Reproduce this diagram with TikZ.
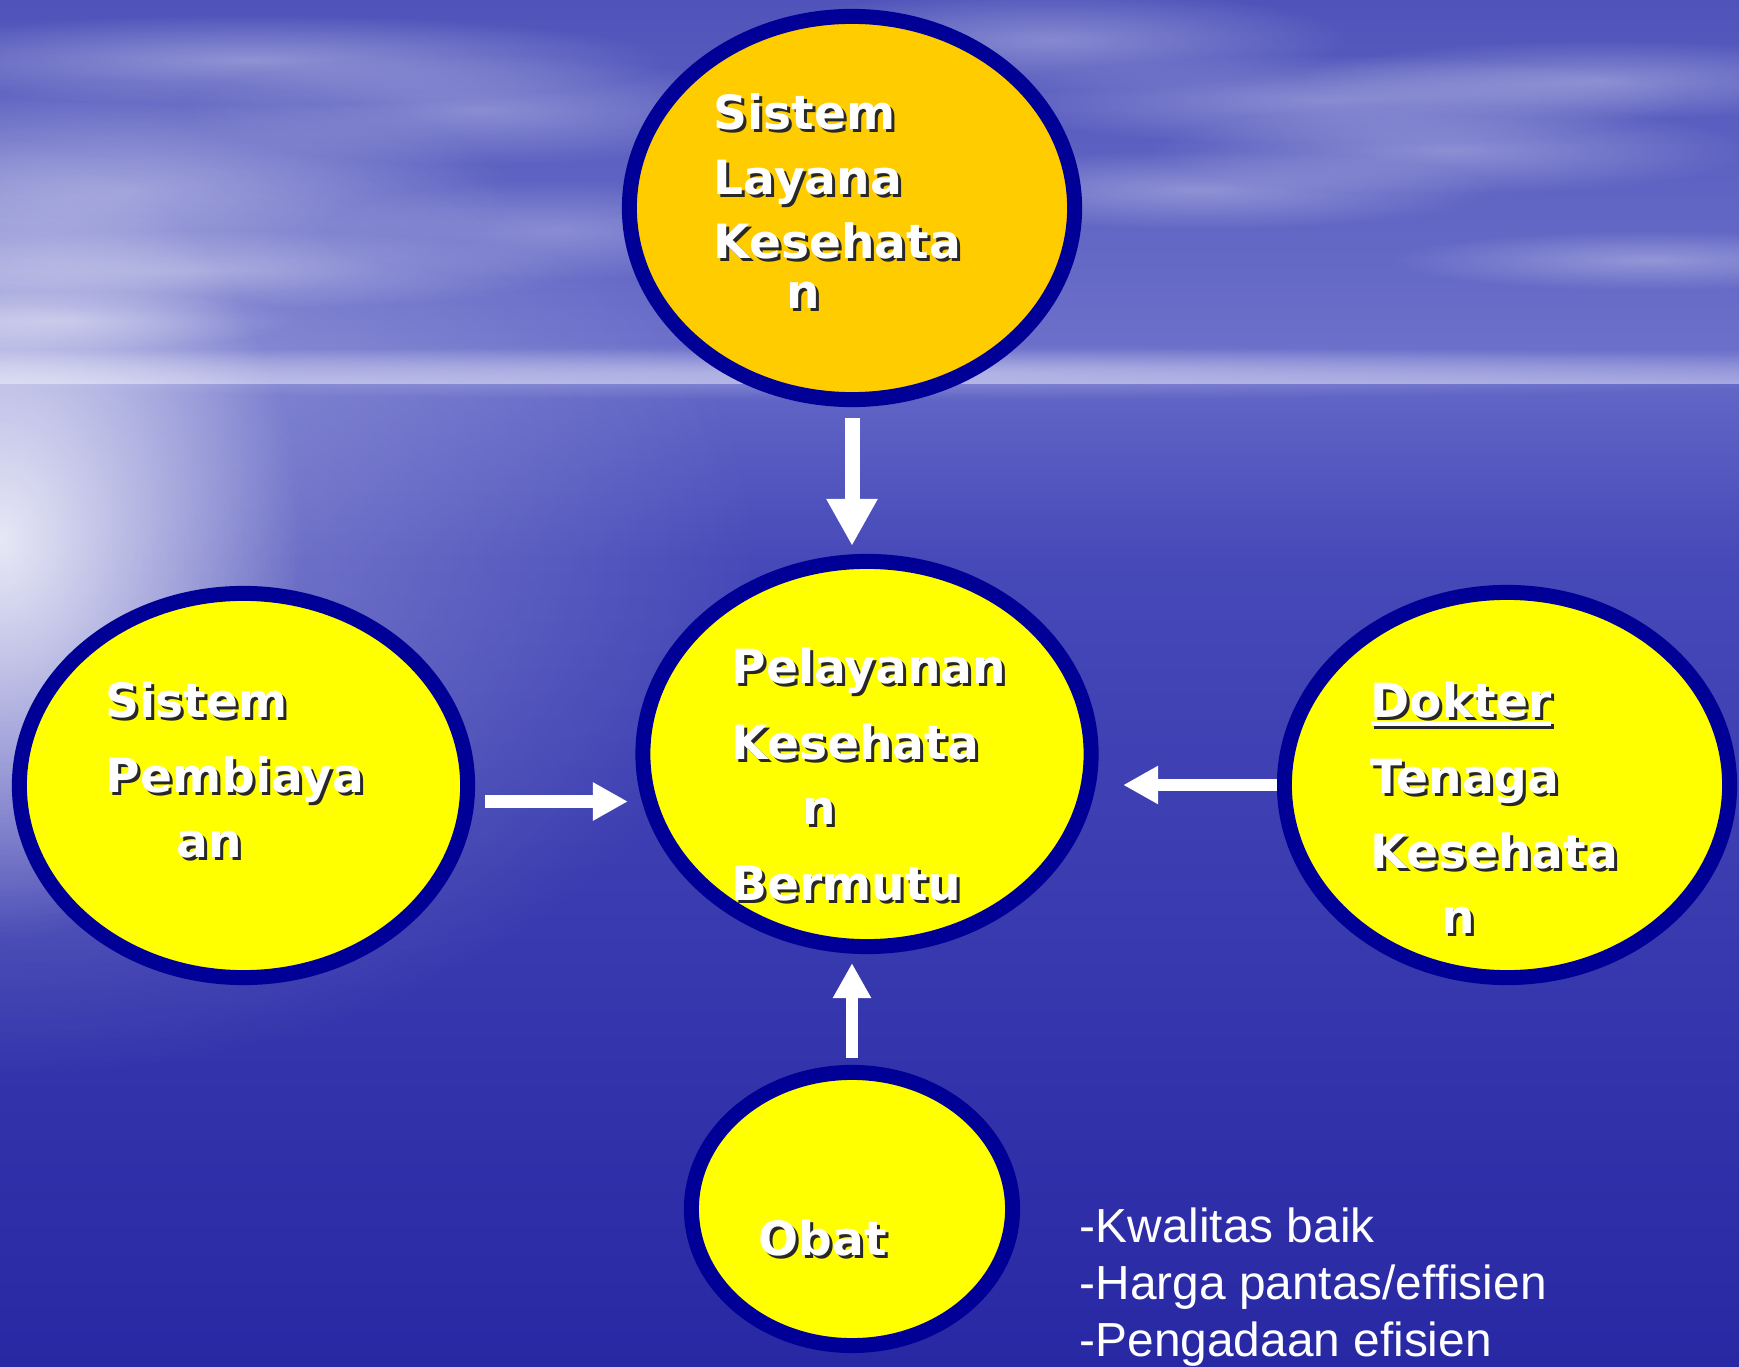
\documentclass[tikz,border=0pt]{standalone}
\usepackage{fontspec}
\newfontfamily\slidefont{DejaVu Sans}
\newfontfamily\listfont{Liberation Sans}[Ligatures=NoCommon]
\usetikzlibrary{shapes.geometric,arrows.meta,fadings}
\definecolor{navy}{RGB}{0,0,150}
\definecolor{yel}{RGB}{255,255,0}
\definecolor{gold}{RGB}{255,204,0}
\definecolor{skytop}{RGB}{80,84,186}
\definecolor{skylow}{RGB}{108,112,202}
\definecolor{horizon}{RGB}{168,170,226}
\definecolor{seatop}{RGB}{98,102,198}
\definecolor{seamid}{RGB}{70,73,184}
\definecolor{seabot}{RGB}{40,40,164}
\definecolor{shadowcol}{RGB}{40,40,40}
\tikzfading[name=softglow, inner color=transparent!0, outer color=transparent!100]
% shadowed word and underline
\newcommand\sh[1]{\rlap{\kern0.03cm\raisebox{-0.03cm}{\color{shadowcol}#1}}#1}
\newcommand\ul[1]{\vtop{\hbox{#1}\kern0.035cm\hrule height0.045cm}}
\newcommand\cloud[4]{\fill[white, opacity=#4, path fading=softglow] (#1) ellipse ({#2} and {#3});}

\begin{document}
\begin{tikzpicture}[x=0.01cm, y=-0.01cm,
	bubble/.style={ellipse, draw=navy, line width=0.15cm, fill=yel, inner sep=0pt},
	words/.style={text=white, inner sep=0pt, anchor=base west, font=\slidefont\bfseries\fontsize{13.4pt}{16pt}\selectfont},
	listtxt/.style={text=white, inner sep=0pt, anchor=base west, font=\listfont\fontsize{13.6pt}{16pt}\selectfont},
	bigflow/.style={white, line width=0.15cm, -{Triangle[length=0.47cm,width=0.48cm]}},
	flow/.style={white, line width=0.125cm, -{Triangle[length=0.35cm,width=0.36cm]}}]
	%%%%% BACKGROUND %%%%%
	\useasboundingbox (0,0) rectangle (1739,1367);
	\shade[top color=skytop, bottom color=skylow] (0,0) rectangle (1739,350);
	\shade[top color=skylow, bottom color=horizon] (0,349) rectangle (1739,386);
	\shade[top color=seatop, bottom color=seamid] (0,385) rectangle (1739,560);
	\shade[top color=seamid, bottom color=seabot] (0,559) rectangle (1739,1367);
	\fill[white, opacity=0.35, path fading=softglow] (0,560) ellipse (760 and 520);
	\fill[white, opacity=0.8, path fading=softglow] (0,540) ellipse (300 and 400);
	% wisps, left
	\cloud{250,60}{420}{45}{0.35}
	\cloud{480,110}{300}{55}{0.3}
	\cloud{130,190}{380}{110}{0.35}
	\cloud{200,270}{380}{40}{0.3}
	\cloud{60,320}{240}{30}{0.35}
	\cloud{560,230}{240}{50}{0.25}
	% wisps, right
	\cloud{1050,40}{300}{50}{0.3}
	\cloud{1330,100}{360}{45}{0.3}
	\cloud{1600,80}{300}{40}{0.3}
	\cloud{1200,190}{300}{40}{0.3}
	\cloud{1450,150}{300}{45}{0.3}
	\cloud{1650,260}{260}{30}{0.3}
	\cloud{870,372}{1100}{28}{0.3}

	%%%%% BUBBLES %%%%%
	\node[bubble, fill=gold, minimum width=4.45cm, minimum height=3.83cm] (layanan) at (852,208) {};
	\node[bubble, minimum width=4.48cm, minimum height=3.85cm] (pelayanan) at (867,754) {};
	\node[bubble, minimum width=4.48cm, minimum height=3.84cm] (pembiayaan) at (243.5,785.5) {};
	\node[bubble, minimum width=4.45cm, minimum height=3.85cm] (tenaga) at (1507,785) {};
	\node[bubble, minimum width=3.21cm, minimum height=2.73cm] (obat) at (852,1209) {};

	\node[words] (t-layanan) at (713,130) {\vtop{\baselineskip=0.64cm
		\hbox{\sh{Sistem}}\hbox{\sh{Layana}}\hbox{\sh{Kesehata}}\vskip-0.14cm
		\hbox{\kern0.73cm\sh{n}}}};
	\node[words] (t-pelayanan) at (731,683) {\vtop{\baselineskip=0.65cm
		\hbox{\sh{Pelayanan}}\vskip0.11cm\hbox{\sh{Kesehata}}
		\hbox{\kern0.71cm\sh{n}}\vskip0.11cm\hbox{\sh{Bermutu}}}};
	\node[words] (t-pembiayaan) at (105,717) {\vtop{\baselineskip=0.65cm
		\hbox{\sh{Sistem}}\vskip0.10cm\hbox{\sh{Pembiaya}}
		\hbox{\kern0.71cm\sh{an}}}};
	\node[words] (t-tenaga) at (1370,717) {\vtop{\baselineskip=0.65cm
		\hbox{\sh{\ul{Dokter}}}\vskip0.11cm\hbox{\sh{Tenaga}}\vskip0.10cm
		\hbox{\sh{Kesehata}}\hbox{\kern0.71cm\sh{n}}}};
	\node[words] (t-obat) at (758,1255) {\sh{Obat}};

	\node[listtxt] (kualitas) at (1079,1242) {\vtop{\baselineskip=0.57cm
		\hbox{-Kwalitas baik}\hbox{-Harga pantas/effisien}\hbox{-Pengadaan efisien}}};

	%%%%% ARROWS %%%%%
	\draw[bigflow, shorten <=0.11cm, shorten >=0.08cm] (layanan.south) -- (layanan.south |- pelayanan.north);
	\draw[flow, shorten <=0.10cm, shorten >=0.075cm] ([yshift=-0.16cm]pembiayaan.east) -- ([yshift=-0.16cm]pembiayaan.east -| pelayanan.west);
	\draw[flow, shorten >=0.245cm] (tenaga.west) -- (tenaga.west -| pelayanan.east);
	\draw[flow, shorten <=0.07cm, shorten >=0.09cm] (obat.north) -- (obat.north |- pelayanan.south);
\end{tikzpicture}
\end{document}
